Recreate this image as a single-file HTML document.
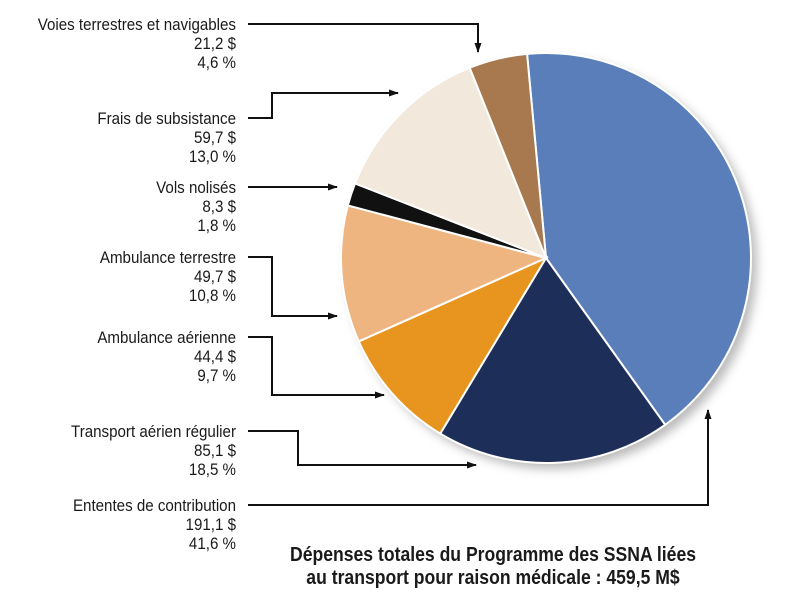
<!DOCTYPE html>
<html><head><meta charset="utf-8">
<style>
html,body{margin:0;padding:0;background:#fff;}
svg{display:block;}
text{font-family:"Liberation Sans Narrow","Liberation Sans",sans-serif;fill:#1a1a1a;}
</style></head>
<body>
<svg id="chart" width="800" height="596" viewBox="0 0 800 596">
<defs>
<marker id="arr" markerWidth="10" markerHeight="8" refX="9" refY="4" orient="auto" markerUnits="userSpaceOnUse">
<path d="M0,0.5 L10,4 L0,7.5 Z" fill="#111"/></marker>
<filter id="sh" x="-20%" y="-20%" width="140%" height="140%"><feGaussianBlur stdDeviation="5"/></filter>
</defs>
<g id="slices"></g>
<g id="labels"></g>
<text transform="translate(493,561) scale(0.88,1)" text-anchor="middle" font-size="20" font-weight="bold">Dépenses totales du Programme des SSNA liées</text>
<text transform="translate(493,584) scale(0.88,1)" text-anchor="middle" font-size="20" font-weight="bold">au transport pour raison médicale : 459,5 M$</text>
</svg>
<script>
const categories=["Ententes de contribution","Transport aérien régulier","Ambulance aérienne","Ambulance terrestre","Vols nolisés","Frais de subsistance","Voies terrestres et navigables"];
const amounts=["191,1","85,1","44,4","49,7","8,3","59,7","21,2"];
const percents=[41.6,18.5,9.7,10.8,1.8,13.0,4.6];
const colors=["#5a7eba","#1d2f59","#e8951f","#eeb580","#111111","#f2e8dc","#a8784f"];
const labelY=[505,431,337,257,187,118,24];
const connectors=[
 [[248,505],[708,505],[708,410]],
 [[248,431],[298,431],[298,465],[476,465]],
 [[248,337],[272,337],[272,395],[384,395]],
 [[248,257],[272,257],[272,316],[337,316]],
 [[248,187],[337,187]],
 [[248,118],[272,118],[272,93],[398,93]],
 [[248,24],[478,24],[478,52]]
];
const NS="http://www.w3.org/2000/svg";
const cx=546,cy=258,r=205,start=-5.3;
const gS=document.getElementById('slices'),gL=document.getElementById('labels');
const shadow=document.createElementNS(NS,'circle');
shadow.setAttribute('cx',cx+6);shadow.setAttribute('cy',cy+6);shadow.setAttribute('r',r);
shadow.setAttribute('fill','#777');shadow.setAttribute('opacity','0.5');shadow.setAttribute('filter','url(#sh)');


gS.appendChild(shadow);
function pt(a){const t=a*Math.PI/180;return [cx+r*Math.sin(t),cy-r*Math.cos(t)];}
const total=percents.reduce((a,b)=>a+b,0);
let a0=start;
percents.forEach((p,i)=>{
 const a1=a0+p/total*360;
 const [x0,y0]=pt(a0),[x1,y1]=pt(a1);
 const path=document.createElementNS(NS,'path');
 path.setAttribute('d',`M${cx},${cy} L${x0},${y0} A${r},${r} 0 ${a1-a0>180?1:0} 1 ${x1},${y1} Z`);
 path.setAttribute('fill',colors[i]);path.setAttribute('stroke','#fff');path.setAttribute('stroke-width','2');
 
 
 gS.appendChild(path);
 a0=a1;
});
categories.forEach((c,i)=>{
 const lines=[c,amounts[i]+" $",percents[i].toFixed(1).replace('.',',')+" %"];
 lines.forEach((t,j)=>{
  const tx=document.createElementNS(NS,'text');
  tx.setAttribute('transform',`translate(236,${labelY[i]+6+j*19}) scale(0.89,1)`);
  tx.setAttribute('text-anchor','end');tx.setAttribute('font-size','17');
  tx.textContent=t;
  
  
  gL.appendChild(tx);
 });
 const pl=document.createElementNS(NS,'polyline');
 pl.setAttribute('points',connectors[i].map(p=>p.join(',')).join(' '));
 pl.setAttribute('fill','none');pl.setAttribute('stroke','#111');pl.setAttribute('stroke-width','2');
 pl.setAttribute('marker-end','url(#arr)');
 
 
 gL.appendChild(pl);
});
</script>
</body></html>
